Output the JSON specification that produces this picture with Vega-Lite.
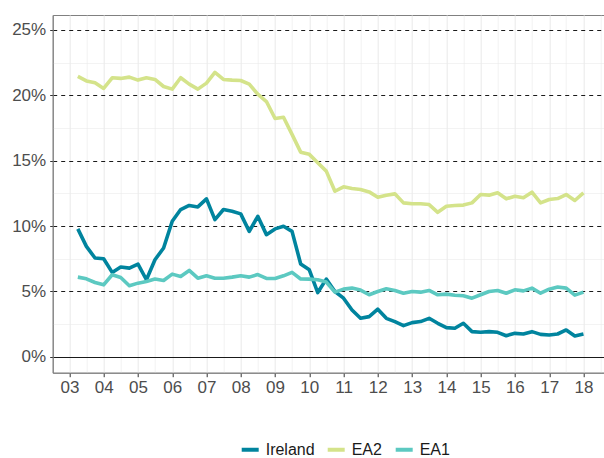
{
  "$schema": "https://vega.github.io/schema/vega-lite/v6.json",
  "width": 551.3,
  "height": 357.7,
  "autosize": {"type": "none"},
  "padding": {"left": 52.7, "top": 15, "right": 0, "bottom": 85.3},
  "background": "white",
  "config": {
    "font": "Liberation Sans",
    "view": {"stroke": "#808080", "strokeWidth": 1}
  },
  "data": {"values": [
    {"date": "2003-04-01", "series": "Ireland", "value": 9.78}, {"date": "2003-04-01", "series": "EA2", "value": 21.44}, {"date": "2003-04-01", "series": "EA1", "value": 6.09},
    {"date": "2003-07-01", "series": "Ireland", "value": 8.44}, {"date": "2003-07-01", "series": "EA2", "value": 21.1}, {"date": "2003-07-01", "series": "EA1", "value": 5.96},
    {"date": "2003-10-01", "series": "Ireland", "value": 7.55}, {"date": "2003-10-01", "series": "EA2", "value": 20.95}, {"date": "2003-10-01", "series": "EA1", "value": 5.68},
    {"date": "2004-01-01", "series": "Ireland", "value": 7.5}, {"date": "2004-01-01", "series": "EA2", "value": 20.52}, {"date": "2004-01-01", "series": "EA1", "value": 5.5},
    {"date": "2004-04-01", "series": "Ireland", "value": 6.45}, {"date": "2004-04-01", "series": "EA2", "value": 21.34}, {"date": "2004-04-01", "series": "EA1", "value": 6.27},
    {"date": "2004-07-01", "series": "Ireland", "value": 6.86}, {"date": "2004-07-01", "series": "EA2", "value": 21.29}, {"date": "2004-07-01", "series": "EA1", "value": 6.06},
    {"date": "2004-10-01", "series": "Ireland", "value": 6.78}, {"date": "2004-10-01", "series": "EA2", "value": 21.39}, {"date": "2004-10-01", "series": "EA1", "value": 5.43},
    {"date": "2005-01-01", "series": "Ireland", "value": 7.09}, {"date": "2005-01-01", "series": "EA2", "value": 21.16}, {"date": "2005-01-01", "series": "EA1", "value": 5.63},
    {"date": "2005-04-01", "series": "Ireland", "value": 5.89}, {"date": "2005-04-01", "series": "EA2", "value": 21.34}, {"date": "2005-04-01", "series": "EA1", "value": 5.76},
    {"date": "2005-07-01", "series": "Ireland", "value": 7.42}, {"date": "2005-07-01", "series": "EA2", "value": 21.21}, {"date": "2005-07-01", "series": "EA1", "value": 5.94},
    {"date": "2005-10-01", "series": "Ireland", "value": 8.32}, {"date": "2005-10-01", "series": "EA2", "value": 20.67}, {"date": "2005-10-01", "series": "EA1", "value": 5.83},
    {"date": "2006-01-01", "series": "Ireland", "value": 10.36}, {"date": "2006-01-01", "series": "EA2", "value": 20.47}, {"date": "2006-01-01", "series": "EA1", "value": 6.32},
    {"date": "2006-04-01", "series": "Ireland", "value": 11.26}, {"date": "2006-04-01", "series": "EA2", "value": 21.34}, {"date": "2006-04-01", "series": "EA1", "value": 6.14},
    {"date": "2006-07-01", "series": "Ireland", "value": 11.57}, {"date": "2006-07-01", "series": "EA2", "value": 20.85}, {"date": "2006-07-01", "series": "EA1", "value": 6.6},
    {"date": "2006-10-01", "series": "Ireland", "value": 11.46}, {"date": "2006-10-01", "series": "EA2", "value": 20.47}, {"date": "2006-10-01", "series": "EA1", "value": 6.01},
    {"date": "2007-01-01", "series": "Ireland", "value": 12.08}, {"date": "2007-01-01", "series": "EA2", "value": 20.93}, {"date": "2007-01-01", "series": "EA1", "value": 6.19},
    {"date": "2007-04-01", "series": "Ireland", "value": 10.49}, {"date": "2007-04-01", "series": "EA2", "value": 21.75}, {"date": "2007-04-01", "series": "EA1", "value": 6.01},
    {"date": "2007-07-01", "series": "Ireland", "value": 11.26}, {"date": "2007-07-01", "series": "EA2", "value": 21.21}, {"date": "2007-07-01", "series": "EA1", "value": 6.01},
    {"date": "2007-10-01", "series": "Ireland", "value": 11.13}, {"date": "2007-10-01", "series": "EA2", "value": 21.16}, {"date": "2007-10-01", "series": "EA1", "value": 6.09},
    {"date": "2008-01-01", "series": "Ireland", "value": 10.93}, {"date": "2008-01-01", "series": "EA2", "value": 21.13}, {"date": "2008-01-01", "series": "EA1", "value": 6.19},
    {"date": "2008-04-01", "series": "Ireland", "value": 9.59}, {"date": "2008-04-01", "series": "EA2", "value": 20.85}, {"date": "2008-04-01", "series": "EA1", "value": 6.09},
    {"date": "2008-07-01", "series": "Ireland", "value": 10.74}, {"date": "2008-07-01", "series": "EA2", "value": 20.08}, {"date": "2008-07-01", "series": "EA1", "value": 6.29},
    {"date": "2008-10-01", "series": "Ireland", "value": 9.34}, {"date": "2008-10-01", "series": "EA2", "value": 19.52}, {"date": "2008-10-01", "series": "EA1", "value": 5.99},
    {"date": "2009-01-01", "series": "Ireland", "value": 9.78}, {"date": "2009-01-01", "series": "EA2", "value": 18.22}, {"date": "2009-01-01", "series": "EA1", "value": 5.99},
    {"date": "2009-04-01", "series": "Ireland", "value": 9.98}, {"date": "2009-04-01", "series": "EA2", "value": 18.32}, {"date": "2009-04-01", "series": "EA1", "value": 6.19},
    {"date": "2009-07-01", "series": "Ireland", "value": 9.59}, {"date": "2009-07-01", "series": "EA2", "value": 17.01}, {"date": "2009-07-01", "series": "EA1", "value": 6.45},
    {"date": "2009-10-01", "series": "Ireland", "value": 7.1}, {"date": "2009-10-01", "series": "EA2", "value": 15.65}, {"date": "2009-10-01", "series": "EA1", "value": 5.95},
    {"date": "2010-01-01", "series": "Ireland", "value": 6.65}, {"date": "2010-01-01", "series": "EA2", "value": 15.48}, {"date": "2010-01-01", "series": "EA1", "value": 5.94},
    {"date": "2010-04-01", "series": "Ireland", "value": 4.91}, {"date": "2010-04-01", "series": "EA2", "value": 14.84}, {"date": "2010-04-01", "series": "EA1", "value": 5.89},
    {"date": "2010-07-01", "series": "Ireland", "value": 5.94}, {"date": "2010-07-01", "series": "EA2", "value": 14.2}, {"date": "2010-07-01", "series": "EA1", "value": 5.71},
    {"date": "2010-10-01", "series": "Ireland", "value": 4.99}, {"date": "2010-10-01", "series": "EA2", "value": 12.66}, {"date": "2010-10-01", "series": "EA1", "value": 4.94},
    {"date": "2011-01-01", "series": "Ireland", "value": 4.48}, {"date": "2011-01-01", "series": "EA2", "value": 13.0}, {"date": "2011-01-01", "series": "EA1", "value": 5.17},
    {"date": "2011-04-01", "series": "Ireland", "value": 3.58}, {"date": "2011-04-01", "series": "EA2", "value": 12.87}, {"date": "2011-04-01", "series": "EA1", "value": 5.25},
    {"date": "2011-07-01", "series": "Ireland", "value": 2.94}, {"date": "2011-07-01", "series": "EA2", "value": 12.79}, {"date": "2011-07-01", "series": "EA1", "value": 5.1},
    {"date": "2011-10-01", "series": "Ireland", "value": 3.07}, {"date": "2011-10-01", "series": "EA2", "value": 12.61}, {"date": "2011-10-01", "series": "EA1", "value": 4.74},
    {"date": "2012-01-01", "series": "Ireland", "value": 3.64}, {"date": "2012-01-01", "series": "EA2", "value": 12.2}, {"date": "2012-01-01", "series": "EA1", "value": 4.99},
    {"date": "2012-04-01", "series": "Ireland", "value": 2.94}, {"date": "2012-04-01", "series": "EA2", "value": 12.36}, {"date": "2012-04-01", "series": "EA1", "value": 5.2},
    {"date": "2012-07-01", "series": "Ireland", "value": 2.69}, {"date": "2012-07-01", "series": "EA2", "value": 12.46}, {"date": "2012-07-01", "series": "EA1", "value": 5.07},
    {"date": "2012-10-01", "series": "Ireland", "value": 2.38}, {"date": "2012-10-01", "series": "EA2", "value": 11.77}, {"date": "2012-10-01", "series": "EA1", "value": 4.86},
    {"date": "2013-01-01", "series": "Ireland", "value": 2.61}, {"date": "2013-01-01", "series": "EA2", "value": 11.7}, {"date": "2013-01-01", "series": "EA1", "value": 4.99},
    {"date": "2013-04-01", "series": "Ireland", "value": 2.69}, {"date": "2013-04-01", "series": "EA2", "value": 11.7}, {"date": "2013-04-01", "series": "EA1", "value": 4.94},
    {"date": "2013-07-01", "series": "Ireland", "value": 2.94}, {"date": "2013-07-01", "series": "EA2", "value": 11.64}, {"date": "2013-07-01", "series": "EA1", "value": 5.07},
    {"date": "2013-10-01", "series": "Ireland", "value": 2.56}, {"date": "2013-10-01", "series": "EA2", "value": 11.05}, {"date": "2013-10-01", "series": "EA1", "value": 4.74},
    {"date": "2014-01-01", "series": "Ireland", "value": 2.23}, {"date": "2014-01-01", "series": "EA2", "value": 11.51}, {"date": "2014-01-01", "series": "EA1", "value": 4.79},
    {"date": "2014-04-01", "series": "Ireland", "value": 2.18}, {"date": "2014-04-01", "series": "EA2", "value": 11.57}, {"date": "2014-04-01", "series": "EA1", "value": 4.71},
    {"date": "2014-07-01", "series": "Ireland", "value": 2.56}, {"date": "2014-07-01", "series": "EA2", "value": 11.6}, {"date": "2014-07-01", "series": "EA1", "value": 4.66},
    {"date": "2014-10-01", "series": "Ireland", "value": 1.92}, {"date": "2014-10-01", "series": "EA2", "value": 11.77}, {"date": "2014-10-01", "series": "EA1", "value": 4.48},
    {"date": "2015-01-01", "series": "Ireland", "value": 1.87}, {"date": "2015-01-01", "series": "EA2", "value": 12.41}, {"date": "2015-01-01", "series": "EA1", "value": 4.74},
    {"date": "2015-04-01", "series": "Ireland", "value": 1.92}, {"date": "2015-04-01", "series": "EA2", "value": 12.36}, {"date": "2015-04-01", "series": "EA1", "value": 4.99},
    {"date": "2015-07-01", "series": "Ireland", "value": 1.87}, {"date": "2015-07-01", "series": "EA2", "value": 12.54}, {"date": "2015-07-01", "series": "EA1", "value": 5.07},
    {"date": "2015-10-01", "series": "Ireland", "value": 1.61}, {"date": "2015-10-01", "series": "EA2", "value": 12.08}, {"date": "2015-10-01", "series": "EA1", "value": 4.86},
    {"date": "2016-01-01", "series": "Ireland", "value": 1.79}, {"date": "2016-01-01", "series": "EA2", "value": 12.28}, {"date": "2016-01-01", "series": "EA1", "value": 5.12},
    {"date": "2016-04-01", "series": "Ireland", "value": 1.74}, {"date": "2016-04-01", "series": "EA2", "value": 12.16}, {"date": "2016-04-01", "series": "EA1", "value": 5.04},
    {"date": "2016-07-01", "series": "Ireland", "value": 1.92}, {"date": "2016-07-01", "series": "EA2", "value": 12.59}, {"date": "2016-07-01", "series": "EA1", "value": 5.25},
    {"date": "2016-10-01", "series": "Ireland", "value": 1.71}, {"date": "2016-10-01", "series": "EA2", "value": 11.77}, {"date": "2016-10-01", "series": "EA1", "value": 4.86},
    {"date": "2017-01-01", "series": "Ireland", "value": 1.66}, {"date": "2017-01-01", "series": "EA2", "value": 12.03}, {"date": "2017-01-01", "series": "EA1", "value": 5.17},
    {"date": "2017-04-01", "series": "Ireland", "value": 1.74}, {"date": "2017-04-01", "series": "EA2", "value": 12.1}, {"date": "2017-04-01", "series": "EA1", "value": 5.33},
    {"date": "2017-07-01", "series": "Ireland", "value": 2.05}, {"date": "2017-07-01", "series": "EA2", "value": 12.41}, {"date": "2017-07-01", "series": "EA1", "value": 5.25},
    {"date": "2017-10-01", "series": "Ireland", "value": 1.59}, {"date": "2017-10-01", "series": "EA2", "value": 11.95}, {"date": "2017-10-01", "series": "EA1", "value": 4.71},
    {"date": "2018-01-01", "series": "Ireland", "value": 1.74}, {"date": "2018-01-01", "series": "EA2", "value": 12.54}, {"date": "2018-01-01", "series": "EA1", "value": 4.94}
  ]},
  "mark": {"type": "line", "strokeWidth": 3.6, "strokeJoin": "round"},
  "encoding": {
    "x": {
      "field": "date", "type": "temporal",
      "scale": {"type": "utc", "domain": [{"year": 2002, "month": 7, "date": 7, "utc": true}, {"year": 2018, "month": 8, "date": 8, "utc": true}], "nice": false},
      "axis": {
        "title": null,
        "values": [
          {"year": 2003, "month": 1, "date": 1, "utc": true}, {"year": 2003, "month": 7, "date": 1, "utc": true},
          {"year": 2004, "month": 1, "date": 1, "utc": true}, {"year": 2004, "month": 7, "date": 1, "utc": true},
          {"year": 2005, "month": 1, "date": 1, "utc": true}, {"year": 2005, "month": 7, "date": 1, "utc": true},
          {"year": 2006, "month": 1, "date": 1, "utc": true}, {"year": 2006, "month": 7, "date": 1, "utc": true},
          {"year": 2007, "month": 1, "date": 1, "utc": true}, {"year": 2007, "month": 7, "date": 1, "utc": true},
          {"year": 2008, "month": 1, "date": 1, "utc": true}, {"year": 2008, "month": 7, "date": 1, "utc": true},
          {"year": 2009, "month": 1, "date": 1, "utc": true}, {"year": 2009, "month": 7, "date": 1, "utc": true},
          {"year": 2010, "month": 1, "date": 1, "utc": true}, {"year": 2010, "month": 7, "date": 1, "utc": true},
          {"year": 2011, "month": 1, "date": 1, "utc": true}, {"year": 2011, "month": 7, "date": 1, "utc": true},
          {"year": 2012, "month": 1, "date": 1, "utc": true}, {"year": 2012, "month": 7, "date": 1, "utc": true},
          {"year": 2013, "month": 1, "date": 1, "utc": true}, {"year": 2013, "month": 7, "date": 1, "utc": true},
          {"year": 2014, "month": 1, "date": 1, "utc": true}, {"year": 2014, "month": 7, "date": 1, "utc": true},
          {"year": 2015, "month": 1, "date": 1, "utc": true}, {"year": 2015, "month": 7, "date": 1, "utc": true},
          {"year": 2016, "month": 1, "date": 1, "utc": true}, {"year": 2016, "month": 7, "date": 1, "utc": true},
          {"year": 2017, "month": 1, "date": 1, "utc": true}, {"year": 2017, "month": 7, "date": 1, "utc": true},
          {"year": 2018, "month": 1, "date": 1, "utc": true}, {"year": 2018, "month": 7, "date": 1, "utc": true}
        ],
        "labelExpr": "utcmonth(datum.value) == 0 ? utcFormat(datum.value, '%y') : ''",
        "labelFontSize": 17,
        "labelColor": "#4D4D4D",
        "labelPadding": 3,
        "labelFlush": false,
        "labelOverlap": false,
        "tickSize": 4,
        "tickColor": "#333333",
        "tickOpacity": {"condition": {"test": "utcmonth(datum.value) == 0", "value": 1}, "value": 0},
        "domainColor": "#808080",
        "grid": true,
        "gridColor": "#EBEBEB",
        "gridWidth": {"condition": {"test": "utcmonth(datum.value) == 0", "value": 1.1}, "value": 0.6}
      }
    },
    "y": {
      "field": "value", "type": "quantitative",
      "scale": {"domain": [-1.22, 26.14], "nice": false, "zero": false},
      "axis": {
        "title": null,
        "values": [0, 2.5, 5, 7.5, 10, 12.5, 15, 17.5, 20, 22.5, 25],
        "labelExpr": "datum.value % 5 == 0 ? datum.value + '%' : ''",
        "labelFontSize": 17,
        "labelColor": "#4D4D4D",
        "labelPadding": 4,
        "labelFlush": false,
        "labelOverlap": false,
        "tickSize": 3,
        "tickColor": "#333333",
        "tickOpacity": {"condition": {"test": "datum.value % 5 == 0", "value": 1}, "value": 0},
        "domainColor": "#808080",
        "grid": true,
        "gridColor": {"condition": {"test": "datum.value % 5 == 0", "value": "#1A1A1A"}, "value": "#EBEBEB"},
        "gridDash": {"condition": {"test": "datum.value % 5 == 0 && datum.value != 0", "value": [4, 4]}, "value": []},
        "gridWidth": {"condition": {"test": "datum.value % 5 == 0", "value": 1.1}, "value": 0.6}
      }
    },
    "color": {
      "field": "series", "type": "nominal",
      "scale": {"domain": ["Ireland", "EA2", "EA1"], "range": ["#00849E", "#D4E38A", "#5CC9C1"]},
      "legend": {
        "orient": "none", "legendX": 187, "legendY": 424,
        "direction": "horizontal", "title": null,
        "symbolType": "stroke", "symbolSize": 289, "symbolStrokeWidth": 4,
        "labelFontSize": 16, "labelColor": "#1A1A1A", "labelOffset": 5,
        "columnPadding": 5, "padding": 0
      }
    }
  }
}
